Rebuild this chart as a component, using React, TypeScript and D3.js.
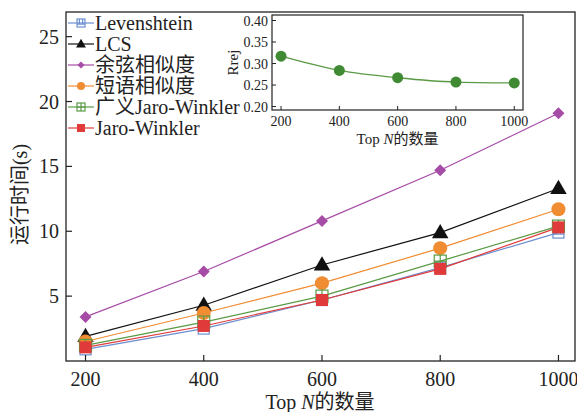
import React from 'react';
import * as d3 from 'd3';

// x categories (Top N)
const topN = [200, 400, 600, 800, 1000];
const yTicks = [5, 10, 15, 20, 25];
const insetYTicks = [0.2, 0.25, 0.3, 0.35, 0.4];

// running time (s) per method
const levenshtein = [0.9, 2.5, 4.7, 7.2, 9.9];
const lcs = [1.9, 4.3, 7.4, 9.9, 13.3];
const cosine = [3.4, 6.9, 10.8, 14.7, 19.1];
const phrase = [1.5, 3.7, 6.0, 8.7, 11.7];
const jwGeneral = [1.2, 3.0, 5.0, 7.7, 10.4];
const jaroWinkler = [1.05, 2.7, 4.7, 7.1, 10.3];

// inset: Rrej vs Top N
const rrej = [0.317, 0.284, 0.267, 0.257, 0.255];

const series = [
  { name: 'Levenshtein', values: levenshtein, color: '#6b8fd0', marker: 'sqx' },
  { name: 'LCS', values: lcs, color: '#111111', marker: 'tri' },
  { name: '余弦相似度', values: cosine, color: '#a64ca6', marker: 'dia' },
  { name: '短语相似度', values: phrase, color: '#f08c32', marker: 'circ' },
  { name: '广义Jaro-Winkler', values: jwGeneral, color: '#5a9a45', marker: 'sqp' },
  { name: 'Jaro-Winkler', values: jaroWinkler, color: '#e03a3a', marker: 'sqf' },
];

const FONT = '"Liberation Serif", "Times New Roman", "Noto Sans CJK SC", serif';

function Marker({ type, color, x, y, s }: { type: string; color: string; x: number; y: number; s: number }) {
  const h = s / 2;
  if (type === 'tri') {
    return <path d={`M${x},${y - h * 1.15}L${x + h * 1.1},${y + h * 0.75}L${x - h * 1.1},${y + h * 0.75}Z`} fill={color} />;
  }
  if (type === 'dia') {
    return <path d={`M${x},${y - h}L${x + h},${y}L${x},${y + h}L${x - h},${y}Z`} fill={color} />;
  }
  if (type === 'circ') {
    return <circle cx={x} cy={y} r={h} fill={color} />;
  }
  if (type === 'sqf') {
    return <rect x={x - h} y={y - h} width={s} height={s} fill={color} />;
  }
  if (type === 'sqp') {
    return (
      <g stroke={color} strokeWidth={1.2} fill="none">
        <rect x={x - h} y={y - h} width={s} height={s} />
        <path d={`M${x - h},${y}H${x + h}M${x},${y - h}V${y + h}`} />
      </g>
    );
  }
  // sqx: open square with inner marks
  return (
    <g stroke={color} strokeWidth={1.2} fill="none">
      <rect x={x - h} y={y - h} width={s} height={s} />
      <path d={`M${x - h * 0.4},${y - h}V${y + h * 0.3}M${x + h * 0.4},${y - h}V${y + h * 0.3}M${x - h},${y + h * 0.3}H${x + h}`} />
    </g>
  );
}

export default function App() {
  const W = 577;
  const H = 412;
  const m = { left: 66, right: 575, top: 12, bottom: 361 };

  const x = d3.scaleLinear().domain([167, 1028]).range([m.left, m.right]);
  const y = d3.scaleLinear().domain([0, 26.9]).range([m.bottom, m.top]);

  const line = d3.line<number>()
    .x((_, i) => x(topN[i]))
    .y((d) => y(d));

  // inset geometry
  const inn = { left: 272, right: 523, top: 15, bottom: 110 };
  const ix = d3.scaleLinear().domain([169, 1030]).range([inn.left, inn.right]);
  const iy = d3.scaleLinear().domain([0.192, 0.4128]).range([inn.bottom, inn.top]);
  const iline = d3.line<number>()
    .x((_, i) => ix(topN[i]))
    .y((d) => iy(d))
    .curve(d3.curveMonotoneX);

  const markerSize: Record<string, number> = { sqx: 11, tri: 15, dia: 12, circ: 14, sqp: 12, sqf: 12 };
  const legendSize: Record<string, number> = { sqx: 8, tri: 9, dia: 7, circ: 8, sqp: 8, sqf: 8 };

  return (
    <svg width={W} height={H} style={{ position: 'absolute', left: 0, top: 0, background: '#fff' }} fontFamily={FONT}>
      <rect x={0} y={0} width={W} height={H} fill="#fff" />

      {/* series lines + markers */}
      {series.map((s) => (
        <g key={s.name}>
          <path d={line(s.values) || ''} fill="none" stroke={s.color} strokeWidth={1.2} />
          {s.values.map((v, i) => (
            <Marker key={i} type={s.marker} color={s.color} x={x(topN[i])} y={y(v)} s={markerSize[s.marker]} />
          ))}
        </g>
      ))}

      {/* frame */}
      <rect x={m.left} y={m.top} width={m.right - m.left} height={m.bottom - m.top} fill="none" stroke="#222" strokeWidth={1.3} />

      {/* x ticks */}
      {topN.map((t) => (
        <g key={t}>
          <line x1={x(t)} x2={x(t)} y1={m.bottom} y2={m.bottom - 6} stroke="#222" strokeWidth={1.2} />
          <text x={x(t)} y={386} textAnchor="middle" fontSize={20} fill="#222">{t}</text>
        </g>
      ))}
      {/* y ticks */}
      {yTicks.map((t) => (
        <g key={t}>
          <line x1={m.left} x2={m.left + 6} y1={y(t)} y2={y(t)} stroke="#222" strokeWidth={1.2} />
          <text x={m.left - 7} y={y(t) + 7} textAnchor="end" fontSize={20} fill="#222">{t}</text>
        </g>
      ))}

      <text x={320} y={409} textAnchor="middle" fontSize={20} fill="#222">
        Top <tspan fontStyle="italic">N</tspan>的数量
      </text>
      <text transform={`translate(27,${(m.top + m.bottom) / 2 + 8}) rotate(-90)`} textAnchor="middle" fontSize={20} fill="#222">
        运行时间(s)
      </text>

      {/* legend */}
      {series.map((s, i) => {
        const ly = 23 + i * 21;
        return (
          <g key={s.name}>
            <line x1={68} x2={94} y1={ly} y2={ly} stroke={s.color} strokeWidth={1.2} />
            <Marker type={s.marker} color={s.color} x={81} y={ly} s={legendSize[s.marker]} />
            <text x={95} y={ly + 6.5} fontSize={20} fill="#222">{s.name}</text>
          </g>
        );
      })}

      {/* inset */}
      <rect x={inn.left} y={inn.top} width={inn.right - inn.left} height={inn.bottom - inn.top} fill="#fff" stroke="#222" strokeWidth={1.2} />
      <path d={iline(rrej) || ''} fill="none" stroke="#5a9a45" strokeWidth={1.3} />
      {rrej.map((v, i) => (
        <circle key={i} cx={ix(topN[i])} cy={iy(v)} r={5.5} fill="#3f8a33" />
      ))}
      {topN.map((t) => (
        <g key={t}>
          <line x1={ix(t)} x2={ix(t)} y1={inn.bottom} y2={inn.bottom - 4} stroke="#222" />
          <text x={ix(t)} y={126} textAnchor="middle" fontSize={14} fill="#222">{t}</text>
        </g>
      ))}
      {insetYTicks.map((t) => (
        <g key={t}>
          <line x1={inn.left} x2={inn.left + 4} y1={iy(t)} y2={iy(t)} stroke="#222" />
          <text x={inn.left - 4} y={iy(t) + 5} textAnchor="end" fontSize={14} fill="#222">{t.toFixed(2)}</text>
        </g>
      ))}
      <text x={(inn.left + inn.right) / 2} y={144} textAnchor="middle" fontSize={15} fill="#222">
        Top <tspan fontStyle="italic">N</tspan>的数量
      </text>
      <text transform={`translate(238,${(inn.top + inn.bottom) / 2}) rotate(-90)`} textAnchor="middle" fontSize={15} fill="#222">
        Rrej
      </text>
    </svg>
  );
}
